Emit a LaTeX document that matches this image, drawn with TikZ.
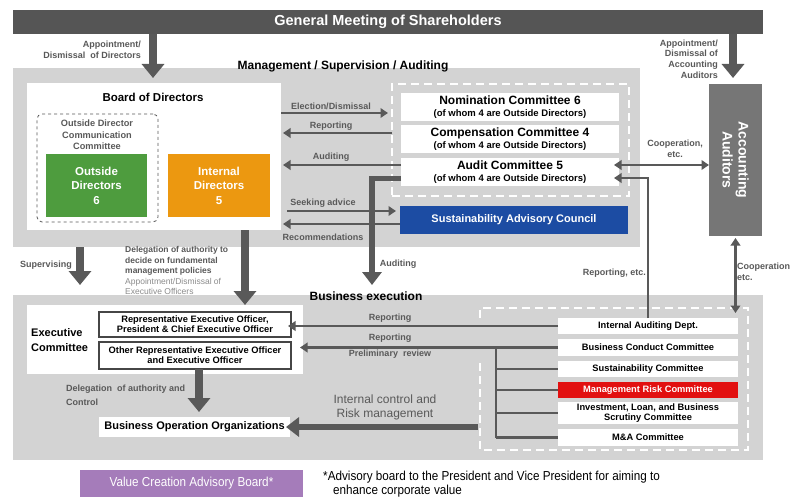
\documentclass[tikz,border=0pt]{standalone}
\usepackage{fontspec}
\setmainfont{Liberation Sans}
\newfontfamily\narrowfont[FakeStretch=0.9]{Liberation Sans}
\usetikzlibrary{arrows.meta}
\definecolor{panegray}{RGB}{211,211,211}
\definecolor{bardark}{RGB}{85,85,85}
\definecolor{arrgray}{RGB}{89,89,89}
\definecolor{lblgray}{RGB}{89,89,89}
\definecolor{lightlbl}{RGB}{140,140,140}
\definecolor{accgray}{RGB}{118,118,118}
\definecolor{dirgreen}{RGB}{78,156,62}
\definecolor{dirorange}{RGB}{236,152,16}
\definecolor{sacblue}{RGB}{28,76,163}
\definecolor{mrcred}{RGB}{226,16,16}
\definecolor{vpurple}{RGB}{165,124,186}
\definecolor{boxline}{RGB}{70,70,70}
\newcommand{\myfs}[1]{\fontsize{#1}{#1}\selectfont}
\begin{document}
\begin{tikzpicture}[x=1pt,y=-1pt,
  pane/.style={anchor=north west,inner sep=0pt,outer sep=0pt},
  wh/.style 2 args={minimum width=#1pt,minimum height=#2pt},
  lbl/.style={text=lblgray,inner sep=0pt,font=\myfs{9}\bfseries,align=center},
  thinarr/.style={draw=arrgray,line width=2.4pt,-{Triangle[width=9.5pt,length=7.5pt]}},
  twoarr/.style={draw=arrgray,line width=2.4pt,{Triangle[width=9.5pt,length=7.5pt]}-{Triangle[width=9.5pt,length=7.5pt]}},
  plainln/.style={draw=arrgray,line width=2.4pt},
  bigarr/.style={draw=arrgray,line width=8pt,-{Triangle[width=22pt,length=14pt]}},
  midarr/.style={draw=arrgray,line width=5.5pt,-{Triangle[width=19pt,length=13pt]}},
  wdash/.style={draw=white,line width=2pt,dash pattern=on 8pt off 5pt},
  wbox/.style={pane,fill=white,align=center},
]
\useasboundingbox (0,0) rectangle (794,497);
\fill[white] (0,0) rectangle (794,497);

% ---------- panes ----------
\node[pane,fill=bardark,wh={750}{24},text=white,font=\myfs{14.5}\bfseries] (gms) at (13,10) {General Meeting of Shareholders};
\node[pane,fill=panegray,wh={627}{179}] (mgmt) at (13,68) {};
\node[pane,fill=panegray,wh={750}{165}] (bex) at (13,295) {};
\node[font=\myfs{12}\bfseries,inner sep=0pt] (mgmttitle) at (343,66) {Management / Supervision / Auditing};
\node[font=\myfs{12}\bfseries,inner sep=0pt] (bextitle) at (366,296) {Business execution};

% ---------- board ----------
\node[pane,fill=white,wh={254}{147}] (board) at (27,83) {};
\node[font=\myfs{11.5}\bfseries,inner sep=0pt] (boardtitle) at (153,97) {Board of Directors};
\node[pane,draw=arrgray,dashed,rounded corners=5pt,line width=0.8pt,wh={121}{108}] (odcc) at (37,114) {};
\node[lbl,font=\fontsize{9.2}{11.5}\selectfont\bfseries] (odcct) at (97,135) {Outside Director\\Communication\\Committee};
\node[pane,fill=dirgreen,wh={101}{63},text=white,align=center,font=\fontsize{11.5}{14.5}\selectfont\bfseries] (outside) at (46,154) {Outside\\Directors\\6};
\node[pane,fill=dirorange,wh={102}{63},text=white,align=center,font=\fontsize{11.5}{14.5}\selectfont\bfseries] (internal) at (168,154) {Internal\\Directors\\5};

% ---------- committees ----------
\node[pane,wdash,wh={237}{112}] (comdash) at (392,84) {};
\node[wbox,wh={218}{28},font=\fontsize{9.5}{12}\selectfont\bfseries] (nom) at (401,93) {{\myfs{12}Nomination Committee 6}\\(of whom 4 are Outside Directors)};
\node[wbox,wh={218}{28},font=\fontsize{9.5}{12}\selectfont\bfseries] (comp) at (401,125) {{\myfs{12}Compensation Committee 4}\\(of whom 4 are Outside Directors)};
\node[wbox,wh={218}{28},font=\fontsize{9.5}{12}\selectfont\bfseries] (audit) at (401,158) {{\myfs{12}Audit Committee 5}\\(of whom 4 are Outside Directors)};
\node[pane,fill=sacblue,wh={228}{28},text=white,font=\myfs{11}\bfseries] (sac) at (400,206) {Sustainability Advisory Council};

% ---------- accounting auditors ----------
\node[pane,fill=accgray,wh={53}{152}] (acc) at (709,84) {};
\node[rotate=-90,text=white,align=center,font=\fontsize{14}{16}\selectfont\bfseries] (acct) at (acc.center) {Accounting\\Auditors};

% ---------- business execution ----------
\node[pane,fill=white,wh={276}{69}] (exec) at (27,305) {};
\node[anchor=west,inner sep=0pt,align=left,font=\fontsize{11}{15}\selectfont\bfseries] (exect) at (31,340) {Executive\\Committee};
\node[pane,fill=white,draw=boxline,line width=1.1pt,wh={192}{25},align=center,font=\fontsize{9.3}{10}\selectfont\bfseries] (rep) at (99,312) {Representative Executive Officer,\\President \& Chief Executive Officer};
\node[pane,fill=white,draw=boxline,line width=1.1pt,wh={192}{27},align=center,font=\fontsize{9.3}{10}\selectfont\bfseries] (other) at (99,342) {Other Representative Executive Officer\\and Executive Officer};
\node[pane,fill=white,wh={191}{20},font=\myfs{11}\bfseries] (boo) at (99,417) {Business Operation Organizations};

\draw[wdash] (480,318) -- (480,308) -- (748,308) -- (748,450) -- (480,450) -- (480,360);
\node[wbox,wh={180}{16},font=\myfs{9.3}\bfseries] (iad) at (558,318) {Internal Auditing Dept.};
\node[wbox,wh={180}{17},font=\myfs{9.3}\bfseries] (bcc) at (558,339) {Business Conduct Committee};
\node[wbox,wh={180}{16},font=\myfs{9.3}\bfseries] (sc) at (558,361) {Sustainability Committee};
\node[wbox,fill=mrcred,text=white,wh={180}{16},font=\myfs{9.3}\bfseries] (mrc) at (558,382) {Management Risk Committee};
\node[wbox,wh={180}{22},font=\fontsize{9.3}{10}\selectfont\bfseries] (ilb) at (558,402) {Investment, Loan, and Business\\Scrutiny Committee};
\node[wbox,wh={180}{17},font=\myfs{9.3}\bfseries] (ma) at (558,429) {M\&A Committee};

% ---------- bottom ----------
\node[pane,fill=vpurple,wh={223}{27},text=white,font=\narrowfont\myfs{13}] (vcab) at (80,470) {Value Creation Advisory Board*};
\node[anchor=north west,inner sep=0pt,align=left,text=black,font=\narrowfont\fontsize{13}{14}\selectfont] (fn) at (323,471) {*Advisory board to the President and Vice President for aiming to\\\hspace*{10pt}enhance corporate value};

% ---------- connectors: top ----------
\coordinate (tipA) at (153,78);
\coordinate (tipB) at (733,78);
\draw[bigarr] (gms.south -| tipA) -- (tipA);
\draw[bigarr] (gms.south -| tipB) -- (tipB);
\node[lbl,anchor=east,align=right,font=\fontsize{9}{11.5}\selectfont\bfseries] (l1) at (141,50) {Appointment/\\Dismissal\ \ of Directors};
\node[lbl,anchor=east,align=right,font=\fontsize{9}{10.8}\selectfont\bfseries] (l2) at (718,59) {Appointment/\\Dismissal of\\Accounting\\Auditors};

% ---------- board <-> committees ----------
\draw[thinarr,shorten >=4pt] (board.east |- 0,113) -- (comdash.west |- 0,113);
\draw[thinarr,shorten >=2pt] (comdash.west |- 0,133) -- (board.east |- 0,133);
\draw[thinarr,shorten >=2pt] (audit.west |- 0,165) -- (board.east |- 0,165);
\draw[thinarr,shorten <=6pt,shorten >=4pt] (board.east |- 0,211) -- (sac.west |- 0,211);
\draw[thinarr,shorten >=2pt] (sac.west |- 0,224) -- (board.east |- 0,224);
\node[lbl] (l3) at (331,106) {Election/Dismissal};
\node[lbl] (l4) at (331,126) {Reporting};
\node[lbl] (l5) at (331,157) {Auditing};
\node[lbl] (l6) at (323,203) {Seeking advice};
\node[lbl] (l7) at (323,237) {Recommendations};

% audit committee -> business execution
\coordinate (audtip) at (372,285);
\draw[midarr] (audit.west |- 0,178.5) -| (audtip);
\node[lbl] (l8) at (398,264) {Auditing};

% reporting etc.
\draw[thinarr,shorten >=-5pt] (iad.north) |- (audit.east |- 0,178);
\node[lbl,anchor=east] (l9) at (646,273) {Reporting, etc.};

% cooperation
\draw[twoarr,shorten <=-5pt] (audit.east |- 0,165) -- (acc.west |- 0,165);
\node[lbl,font=\fontsize{9}{11}\selectfont\bfseries] (l10) at (675,149) {Cooperation,\\etc.};
\draw[twoarr,shorten <=2pt] (acc.south) -- (acc.south |- 0,313);
\node[lbl,anchor=west,align=left,font=\fontsize{9}{11}\selectfont\bfseries] (l11) at (737,272) {Cooperation\\etc.};

% supervising and delegation
\coordinate (suptip) at (80,285);
\draw[bigarr] (mgmt.south -| suptip) -- (suptip);
\node[lbl] (l12) at (46,265) {Supervising};
\coordinate (delx) at (245,0);
\draw[bigarr] (board.south -| delx) -- (exec.north -| delx);
\node[lbl,anchor=west,align=left,font=\fontsize{8.5}{10.4}\selectfont\bfseries] (l13) at (125,261) {Delegation of authority to\\decide on fundamental\\management policies};
\node[anchor=west,inner sep=0pt,align=left,text=lightlbl,font=\fontsize{8.5}{10.4}\selectfont] (l14) at (125,286.5) {Appointment/Dismissal of\\Executive Officers};

\coordinate (dx) at (199,0);
\draw[bigarr,shorten >=5pt] (other.south -| dx) -- (boo.north -| dx);
\node[lbl,anchor=west,align=left,font=\fontsize{9}{14}\selectfont\bfseries] (l15) at (66,395) {Delegation\ \ of authority and\\Control};

% business execution reporting
\draw[thinarr,shorten >=-3pt] (iad.west) -- (rep.east |- iad.west);
\draw[thinarr,shorten >=-3pt] (bcc.west) -- (exec.east |- bcc.west);
\node[lbl] (l16) at (390,318) {Reporting};
\node[lbl] (l17) at (390,338) {Reporting};
\node[lbl] (l18) at (390,354) {Preliminary\ \ review};
\coordinate (br) at (496,0);
\draw[plainln] (br |- bcc.west) -- (br |- ma.west);
\foreach \n in {sc,mrc,ilb,ma} \draw[plainln] (br |- \n.west) -- (\n.west);

% internal control
\coordinate (ic) at (478,427);
\draw[midarr,shorten >=-4pt] (ic) -- (boo.east |- ic);
\node[text=lblgray,inner sep=0pt,align=center,font=\fontsize{12}{14}\selectfont] (l19) at (385,407) {Internal control and\\Risk management};
\end{tikzpicture}
\end{document}
